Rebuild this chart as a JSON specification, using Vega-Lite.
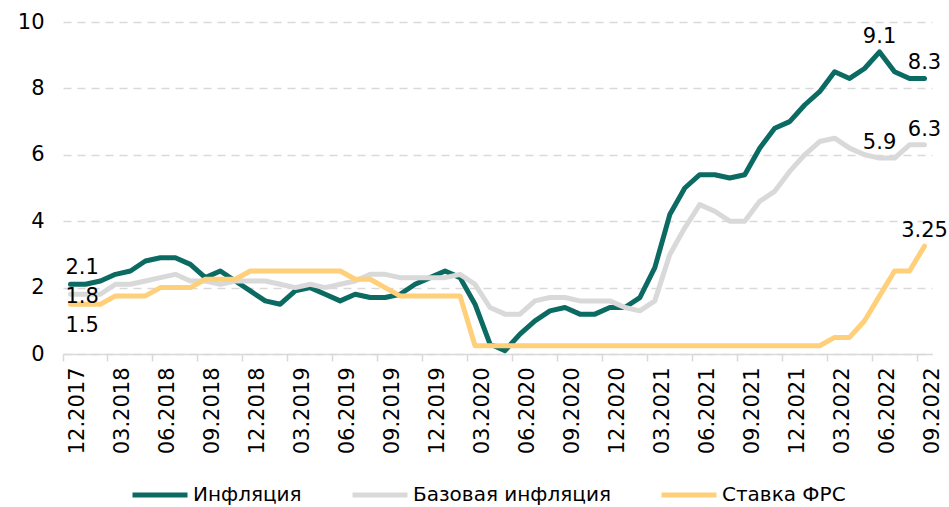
{
  "$schema": "https://vega.github.io/schema/vega-lite/v6.json",
  "width": 869,
  "height": 332,
  "autosize": {"type": "none"},
  "padding": {"left": 63, "top": 22, "right": 17, "bottom": 153},
  "background": "white",
  "config": {"view": {"stroke": null}, "font": "DejaVu Sans"},
  "data": {"values": [
    {"m": "12.2017", "Инфляция": 2.1, "Базовая инфляция": 1.8, "Ставка ФРС": 1.5},
    {"m": "01.2018", "Инфляция": 2.1, "Базовая инфляция": 1.8, "Ставка ФРС": 1.5},
    {"m": "02.2018", "Инфляция": 2.2, "Базовая инфляция": 1.8, "Ставка ФРС": 1.5},
    {"m": "03.2018", "Инфляция": 2.4, "Базовая инфляция": 2.1, "Ставка ФРС": 1.75},
    {"m": "04.2018", "Инфляция": 2.5, "Базовая инфляция": 2.1, "Ставка ФРС": 1.75},
    {"m": "05.2018", "Инфляция": 2.8, "Базовая инфляция": 2.2, "Ставка ФРС": 1.75},
    {"m": "06.2018", "Инфляция": 2.9, "Базовая инфляция": 2.3, "Ставка ФРС": 2.0},
    {"m": "07.2018", "Инфляция": 2.9, "Базовая инфляция": 2.4, "Ставка ФРС": 2.0},
    {"m": "08.2018", "Инфляция": 2.7, "Базовая инфляция": 2.2, "Ставка ФРС": 2.0},
    {"m": "09.2018", "Инфляция": 2.3, "Базовая инфляция": 2.2, "Ставка ФРС": 2.25},
    {"m": "10.2018", "Инфляция": 2.5, "Базовая инфляция": 2.1, "Ставка ФРС": 2.25},
    {"m": "11.2018", "Инфляция": 2.2, "Базовая инфляция": 2.2, "Ставка ФРС": 2.25},
    {"m": "12.2018", "Инфляция": 1.9, "Базовая инфляция": 2.2, "Ставка ФРС": 2.5},
    {"m": "01.2019", "Инфляция": 1.6, "Базовая инфляция": 2.2, "Ставка ФРС": 2.5},
    {"m": "02.2019", "Инфляция": 1.5, "Базовая инфляция": 2.1, "Ставка ФРС": 2.5},
    {"m": "03.2019", "Инфляция": 1.9, "Базовая инфляция": 2.0, "Ставка ФРС": 2.5},
    {"m": "04.2019", "Инфляция": 2.0, "Базовая инфляция": 2.1, "Ставка ФРС": 2.5},
    {"m": "05.2019", "Инфляция": 1.8, "Базовая инфляция": 2.0, "Ставка ФРС": 2.5},
    {"m": "06.2019", "Инфляция": 1.6, "Базовая инфляция": 2.1, "Ставка ФРС": 2.5},
    {"m": "07.2019", "Инфляция": 1.8, "Базовая инфляция": 2.2, "Ставка ФРС": 2.25},
    {"m": "08.2019", "Инфляция": 1.7, "Базовая инфляция": 2.4, "Ставка ФРС": 2.25},
    {"m": "09.2019", "Инфляция": 1.7, "Базовая инфляция": 2.4, "Ставка ФРС": 2.0},
    {"m": "10.2019", "Инфляция": 1.8, "Базовая инфляция": 2.3, "Ставка ФРС": 1.75},
    {"m": "11.2019", "Инфляция": 2.1, "Базовая инфляция": 2.3, "Ставка ФРС": 1.75},
    {"m": "12.2019", "Инфляция": 2.3, "Базовая инфляция": 2.3, "Ставка ФРС": 1.75},
    {"m": "01.2020", "Инфляция": 2.5, "Базовая инфляция": 2.3, "Ставка ФРС": 1.75},
    {"m": "02.2020", "Инфляция": 2.3, "Базовая инфляция": 2.4, "Ставка ФРС": 1.75},
    {"m": "03.2020", "Инфляция": 1.5, "Базовая инфляция": 2.1, "Ставка ФРС": 0.25},
    {"m": "04.2020", "Инфляция": 0.3, "Базовая инфляция": 1.4, "Ставка ФРС": 0.25},
    {"m": "05.2020", "Инфляция": 0.1, "Базовая инфляция": 1.2, "Ставка ФРС": 0.25},
    {"m": "06.2020", "Инфляция": 0.6, "Базовая инфляция": 1.2, "Ставка ФРС": 0.25},
    {"m": "07.2020", "Инфляция": 1.0, "Базовая инфляция": 1.6, "Ставка ФРС": 0.25},
    {"m": "08.2020", "Инфляция": 1.3, "Базовая инфляция": 1.7, "Ставка ФРС": 0.25},
    {"m": "09.2020", "Инфляция": 1.4, "Базовая инфляция": 1.7, "Ставка ФРС": 0.25},
    {"m": "10.2020", "Инфляция": 1.2, "Базовая инфляция": 1.6, "Ставка ФРС": 0.25},
    {"m": "11.2020", "Инфляция": 1.2, "Базовая инфляция": 1.6, "Ставка ФРС": 0.25},
    {"m": "12.2020", "Инфляция": 1.4, "Базовая инфляция": 1.6, "Ставка ФРС": 0.25},
    {"m": "01.2021", "Инфляция": 1.4, "Базовая инфляция": 1.4, "Ставка ФРС": 0.25},
    {"m": "02.2021", "Инфляция": 1.7, "Базовая инфляция": 1.3, "Ставка ФРС": 0.25},
    {"m": "03.2021", "Инфляция": 2.6, "Базовая инфляция": 1.6, "Ставка ФРС": 0.25},
    {"m": "04.2021", "Инфляция": 4.2, "Базовая инфляция": 3.0, "Ставка ФРС": 0.25},
    {"m": "05.2021", "Инфляция": 5.0, "Базовая инфляция": 3.8, "Ставка ФРС": 0.25},
    {"m": "06.2021", "Инфляция": 5.4, "Базовая инфляция": 4.5, "Ставка ФРС": 0.25},
    {"m": "07.2021", "Инфляция": 5.4, "Базовая инфляция": 4.3, "Ставка ФРС": 0.25},
    {"m": "08.2021", "Инфляция": 5.3, "Базовая инфляция": 4.0, "Ставка ФРС": 0.25},
    {"m": "09.2021", "Инфляция": 5.4, "Базовая инфляция": 4.0, "Ставка ФРС": 0.25},
    {"m": "10.2021", "Инфляция": 6.2, "Базовая инфляция": 4.6, "Ставка ФРС": 0.25},
    {"m": "11.2021", "Инфляция": 6.8, "Базовая инфляция": 4.9, "Ставка ФРС": 0.25},
    {"m": "12.2021", "Инфляция": 7.0, "Базовая инфляция": 5.5, "Ставка ФРС": 0.25},
    {"m": "01.2022", "Инфляция": 7.5, "Базовая инфляция": 6.0, "Ставка ФРС": 0.25},
    {"m": "02.2022", "Инфляция": 7.9, "Базовая инфляция": 6.4, "Ставка ФРС": 0.25},
    {"m": "03.2022", "Инфляция": 8.5, "Базовая инфляция": 6.5, "Ставка ФРС": 0.5},
    {"m": "04.2022", "Инфляция": 8.3, "Базовая инфляция": 6.2, "Ставка ФРС": 0.5},
    {"m": "05.2022", "Инфляция": 8.6, "Базовая инфляция": 6.0, "Ставка ФРС": 1.0},
    {"m": "06.2022", "Инфляция": 9.1, "Базовая инфляция": 5.9, "Ставка ФРС": 1.75},
    {"m": "07.2022", "Инфляция": 8.5, "Базовая инфляция": 5.9, "Ставка ФРС": 2.5},
    {"m": "08.2022", "Инфляция": 8.3, "Базовая инфляция": 6.3, "Ставка ФРС": 2.5},
    {"m": "09.2022", "Инфляция": 8.3, "Базовая инфляция": 6.3, "Ставка ФРС": 3.25}
  ]},
  "transform": [
    {"fold": ["Инфляция", "Базовая инфляция", "Ставка ФРС"], "as": ["series", "value"]}
  ],
  "encoding": {
    "x": {
      "field": "m",
      "type": "ordinal",
      "bandPosition": 0.5,
      "scale": {
        "type": "band",
        "paddingInner": 0,
        "paddingOuter": 0,
        "domain": ["12.2017","01.2018","02.2018","03.2018","04.2018","05.2018","06.2018","07.2018","08.2018","09.2018","10.2018","11.2018","12.2018","01.2019","02.2019","03.2019","04.2019","05.2019","06.2019","07.2019","08.2019","09.2019","10.2019","11.2019","12.2019","01.2020","02.2020","03.2020","04.2020","05.2020","06.2020","07.2020","08.2020","09.2020","10.2020","11.2020","12.2020","01.2021","02.2021","03.2021","04.2021","05.2021","06.2021","07.2021","08.2021","09.2021","10.2021","11.2021","12.2021","01.2022","02.2022","03.2022","04.2022","05.2022","06.2022","07.2022","08.2022","09.2022"]
      },
      "axis": {
        "title": null,
        "values": ["12.2017","03.2018","06.2018","09.2018","12.2018","03.2019","06.2019","09.2019","12.2019","03.2020","06.2020","09.2020","12.2020","03.2021","06.2021","09.2021","12.2021","03.2022","06.2022","09.2022"],
        "bandPosition": 0,
        "labelOffset": 8,
        "labelAngle": 270,
        "labelFont": "DejaVu Sans",
        "labelFontSize": 21,
        "labelColor": "#000000",
        "labelPadding": 6,
        "labelOverlap": false,
        "tickSize": 7,
        "tickColor": "#d9d9d9",
        "tickWidth": 1.5,
        "domainColor": "#d9d9d9",
        "domainWidth": 1.5,
        "grid": false
      }
    },
    "y": {
      "field": "value",
      "type": "quantitative",
      "scale": {"domain": [0, 10], "nice": false, "zero": true},
      "axis": {
        "title": null,
        "values": [0, 2, 4, 6, 8, 10],
        "domain": false,
        "ticks": false,
        "labelPadding": 19,
        "labelFont": "DejaVu Sans",
        "labelFontSize": 21,
        "labelColor": "#000000",
        "grid": true,
        "gridColor": "#d9d9d9",
        "gridDash": [8, 6],
        "gridWidth": 1.3
      }
    }
  },
  "layer": [
    {
      "mark": {"type": "line", "strokeWidth": 5, "strokeJoin": "round", "strokeCap": "round"},
      "encoding": {
        "color": {
          "field": "series",
          "type": "nominal",
          "scale": {
            "domain": ["Инфляция", "Базовая инфляция", "Ставка ФРС"],
            "range": ["#0b6b62", "#d9d9d9", "#ffcf7a"]
          },
          "legend": {
            "orient": "none",
            "direction": "horizontal",
            "legendX": 67,
            "legendY": 443,
            "title": null,
            "padding": 0,
            "symbolType": "stroke",
            "symbolSize": 3025,
            "symbolStrokeWidth": 5,
            "labelFont": "DejaVu Sans",
            "labelFontSize": 20,
            "labelColor": "#000000",
            "labelLimit": 0,
            "labelOffset": 3,
            "columnPadding": 40
          }
        }
      }
    },
    {
      "transform": [{"filter": "datum.m == '09.2022' || (datum.m == '06.2022' && datum.series != 'Ставка ФРС')"}],
      "mark": {"type": "text", "align": "center", "baseline": "middle", "dy": -15, "fontSize": 21, "font": "DejaVu Sans", "color": "#000000"},
      "encoding": {"text": {"field": "value", "type": "nominal"}}
    },
    {
      "transform": [{"filter": "datum.m == '12.2017' && datum.series == 'Инфляция'"}],
      "mark": {"type": "text", "align": "left", "baseline": "middle", "dx": -5, "dy": -16, "fontSize": 21, "font": "DejaVu Sans", "color": "#000000"},
      "encoding": {"text": {"field": "value", "type": "nominal"}}
    },
    {
      "transform": [{"filter": "datum.m == '12.2017' && datum.series == 'Базовая инфляция'"}],
      "mark": {"type": "text", "align": "left", "baseline": "middle", "dx": -5, "dy": 3, "fontSize": 21, "font": "DejaVu Sans", "color": "#000000"},
      "encoding": {"text": {"field": "value", "type": "nominal"}}
    },
    {
      "transform": [{"filter": "datum.m == '12.2017' && datum.series == 'Ставка ФРС'"}],
      "mark": {"type": "text", "align": "left", "baseline": "middle", "dx": -5, "dy": 22, "fontSize": 21, "font": "DejaVu Sans", "color": "#000000"},
      "encoding": {"text": {"field": "value", "type": "nominal"}}
    }
  ]
}
